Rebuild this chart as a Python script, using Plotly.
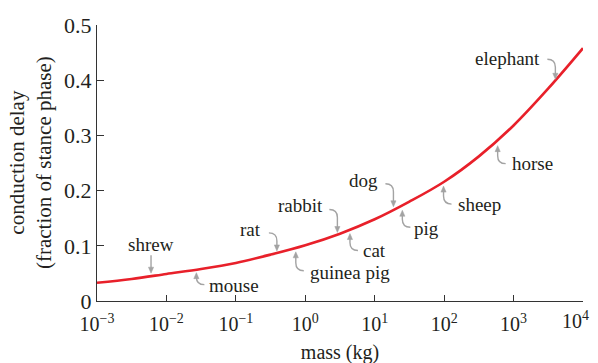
import numpy as np
import plotly.graph_objects as go

# ---- data ----
mass_kg = [1e-3, 10**-2.5, 1e-2, 10**-1.5, 1e-1, 10**-0.5, 1e0, 10**0.5,
           1e1, 10**1.5, 1e2, 10**2.5, 1e3, 10**3.5, 1e4]
delay = [0.033, 0.040, 0.049, 0.058, 0.069, 0.084, 0.101, 0.122,
         0.148, 0.180, 0.216, 0.262, 0.318, 0.385, 0.458]

animals = ["shrew", "mouse", "rat", "guinea pig", "rabbit", "cat",
           "dog", "pig", "sheep", "horse", "elephant"]
animal_mass = [0.006, 0.027, 0.39, 0.73, 2.9, 4.4, 18.6, 25, 98, 590, 4000]

x_tick_vals = [1e-3, 1e-2, 1e-1, 1e0, 1e1, 1e2, 1e3, 1e4]
x_tick_text = ["10<sup>−3</sup>", "10<sup>−2</sup>", "10<sup>−1</sup>",
               "10<sup>0</sup>", "10<sup>1</sup>", "10<sup>2</sup>",
               "10<sup>3</sup>", "10<sup>4</sup>"]
y_tick_vals = [0, 0.1, 0.2, 0.3, 0.4, 0.5]
y_tick_text = ["0", "0.1", "0.2", "0.3", "0.4", "0.5"]

x_title = "mass (kg)"
y_title = "conduction delay<br>(fraction of stance phase)"

# ---- label placement (style only), in pixels:
# side, gap between curve and arrow tip, hook height, text dx, text dy (from tip)
label_style = {
    "shrew":      ("straight", 3, 18, 0, 29),
    "mouse":      ("below", 3, 12, 11, -13),
    "rat":        ("above", 2, 18, -14, 21),
    "guinea pig": ("below", 4, 19, 12, -21),
    "rabbit":     ("above", 2, 23, -12, 27),
    "cat":        ("below", 4, 17, 11, -17),
    "dog":        ("above", 3, 23, -13, 26),
    "pig":        ("below", 5, 17, 10, -18),
    "sheep":      ("below", 4, 18, 12, -18),
    "horse":      ("below", 6, 18, 12, -18),
    "elephant":   ("above", 1, 20, -13, 21),
}

FONT = "Liberation Serif"
TXT = "#231f20"
ARROW = "#a3a3a3"
RED = "#e8202a"

fig = go.Figure()
fig.add_trace(go.Scatter(x=mass_kg, y=delay, mode="lines",
                         line=dict(color=RED, width=2.6, shape="spline"),
                         hoverinfo="skip", showlegend=False))

log_m = np.log10(mass_kg)
shapes = []
annotations = []
for name, m in zip(animals, animal_mass):
    lx = float(np.log10(m))
    yv = float(np.interp(lx, log_m, delay))
    side, gap, h, tdx, tdy = label_style[name]
    s = -1 if side == "below" else 1
    t = s * gap  # arrow tip, pixels from the curve (y up)
    if side == "straight":
        shaft = f"M 0,{t+h} L 0,{t+4}"
        xanchor = "center"
    elif side == "above":
        shaft = f"M -8,{t+h} Q 0,{t+h} 0,{t+h-8} L 0,{t+4}"
        xanchor = "right"
    else:
        shaft = f"M 0,{t-4} L 0,{t-(h-8)} Q 0,{t-h} 8,{t-h}"
        xanchor = "left"
    head = f"M -2.6,{t+s*6} L 2.6,{t+s*6} L 0,{t} Z"
    common = dict(type="path", xref="x", yref="y", xsizemode="pixel",
                  ysizemode="pixel", xanchor=m, yanchor=yv, layer="above")
    shapes.append(dict(path=shaft, line=dict(color=ARROW, width=1.4), **common))
    shapes.append(dict(path=head, line=dict(color=ARROW, width=0.5),
                       fillcolor=ARROW, **common))
    annotations.append(dict(x=lx, y=yv, xref="x", yref="y", text=name,
                            showarrow=False, xanchor=xanchor, yanchor="middle",
                            xshift=tdx, yshift=t + tdy,
                            font=dict(family=FONT, size=19, color=TXT)))

# y-axis title as a rotated annotation (two lines)
annotations.append(dict(x=0, y=0.5, xref="paper", yref="paper", text=y_title,
                        showarrow=False, textangle=-90, xanchor="center",
                        yanchor="middle", xshift=-67,
                        font=dict(family=FONT, size=21, color=TXT)))
# last x tick label sits left-aligned to the figure edge
annotations.append(dict(x=np.log10(x_tick_vals[-1]), y=0, xref="x", yref="y",
                        text=x_tick_text[-1], showarrow=False,
                        xanchor="right", yanchor="top", xshift=8, yshift=-5,
                        font=dict(family=FONT, size=20, color=TXT)))
tick_text_drawn = x_tick_text[:-1] + [""]

fig.update_layout(
    width=598, height=363,
    margin=dict(l=89, r=23, t=17, b=70, autoexpand=False),
    paper_bgcolor="white", plot_bgcolor="white",
    font=dict(family=FONT, size=19, color=TXT),
    shapes=shapes, annotations=annotations,
    xaxis=dict(type="log", range=[-3, 4], tickvals=x_tick_vals,
               ticktext=tick_text_drawn, ticks="inside", ticklen=6,
               tickwidth=1.2, tickcolor="#333", showline=True,
               linecolor="#333", linewidth=1.4, showgrid=False,
               zeroline=False, tickfont=dict(size=20), automargin=False,
               ticklabelstandoff=5,
               title=dict(text=x_title, font=dict(size=20), standoff=10)),
    yaxis=dict(range=[0, 0.5], tickvals=y_tick_vals, ticktext=y_tick_text,
               ticks="inside", ticklen=7, tickwidth=1.2, tickcolor="#333",
               showline=True, linecolor="#333", linewidth=1.4,
               showgrid=False, zeroline=False, tickfont=dict(size=22),
               automargin=False),
)

fig.write_html("out.html")
